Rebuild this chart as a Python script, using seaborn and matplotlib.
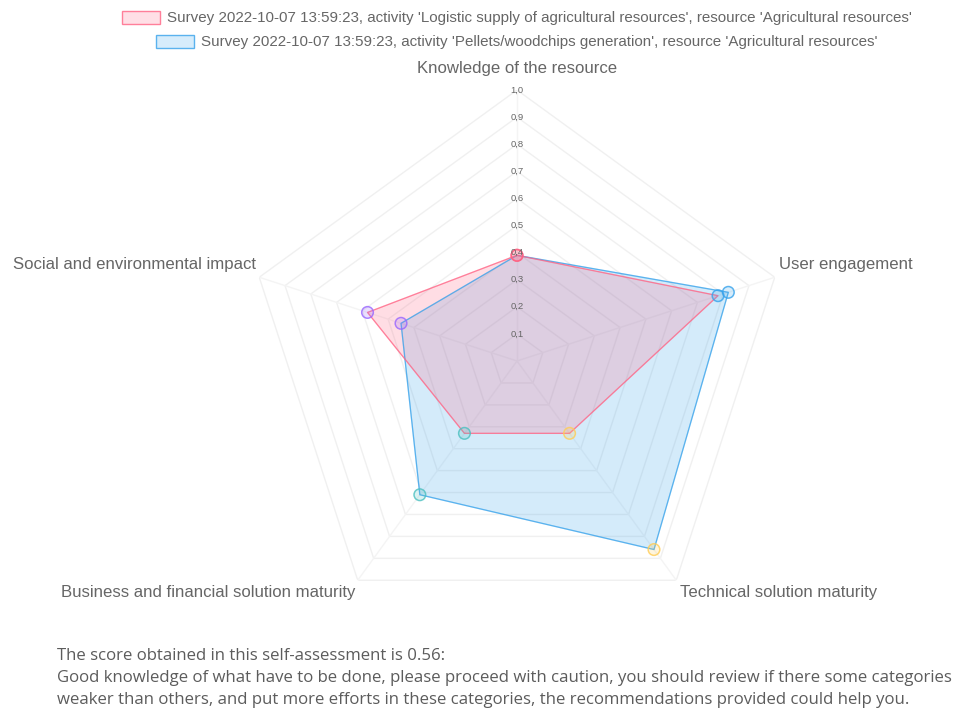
import numpy as np
import matplotlib
matplotlib.use("Agg")
import matplotlib.pyplot as plt
import seaborn as sns
import pandas as pd
from matplotlib.patches import Patch

# ---------------- data ----------------
categories = [
    "Knowledge of the resource",
    "User engagement",
    "Technical solution maturity",
    "Business and financial solution maturity",
    "Social and environmental impact",
]
logistic_values = [0.39, 0.78, 0.33, 0.33, 0.58]
pellets_values = [0.39, 0.82, 0.86, 0.61, 0.45]
series_labels = [
    "Survey 2022-10-07 13:59:23, activity 'Logistic supply of agricultural resources', resource 'Agricultural resources'",
    "Survey 2022-10-07 13:59:23, activity 'Pellets/woodchips generation', resource 'Agricultural resources'",
]
tick_values = [0.1, 0.2, 0.3, 0.4, 0.5, 0.6, 0.7, 0.8, 0.9, 1.0]
tick_labels = ["0,1", "0,2", "0,3", "0,4", "0,5", "0,6", "0,7", "0,8", "0,9", "1,0"]
score_lines = [
    "The score obtained in this self-assessment is 0.56:",
    "Good knowledge of what have to be done, please proceed with caution, you should review if there some categories",
    "weaker than others, and put more efforts in these categories, the recommendations provided could help you.",
]

# ---------------- style ----------------
sns.set_theme(style="white")
plt.rcParams["font.family"] = ["Liberation Sans", "DejaVu Sans"]

red = (255 / 255, 99 / 255, 132 / 255)
blue = (54 / 255, 162 / 255, 235 / 255)
point_colors = [
    (255 / 255, 99 / 255, 132 / 255),
    (54 / 255, 162 / 255, 235 / 255),
    (255 / 255, 205 / 255, 86 / 255),
    (75 / 255, 192 / 255, 192 / 255),
    (153 / 255, 102 / 255, 255 / 255),
]
text_color = "#666666"

W, H = 954, 711
fig = plt.figure(figsize=(W / 100, H / 100), dpi=100)
cx, cy, R = 517, 361, 271
ax = fig.add_axes([(cx - R) / W, (H - cy - R) / H, 2 * R / W, 2 * R / H], projection="polar")
ax.set_theta_offset(np.pi / 2)
ax.set_theta_direction(-1)
ax.set_ylim(0, 1)
ax.grid(False)
ax.spines["polar"].set_visible(False)
ax.set_xticks([])
ax.set_yticks([])
ax.patch.set_alpha(0)

n = len(categories)
theta = np.linspace(0, 2 * np.pi, n, endpoint=False)
theta_c = np.append(theta, theta[0])

# grid pentagons
for t in tick_values:
    ax.plot(theta_c, [t] * (n + 1), color="#f0f0f0", lw=1.0, zorder=1)
for th in theta:
    ax.plot([th, th], [0, 1], color="#f4f4f4", lw=1.0, zorder=1)

# datasets (second one below, first on top like Chart.js)
for vals, col in [(pellets_values, blue), (logistic_values, red)]:
    v = np.append(vals, vals[0])
    ax.fill(theta_c, v, color=(*col, 0.21), zorder=2)
    ax.plot(theta_c, v, color=col, lw=0.9, alpha=0.75, zorder=3)

# point markers
df = pd.DataFrame({
    "theta": np.concatenate([theta, theta]),
    "value": pellets_values + logistic_values,
    "axis": categories + categories,
})
sns.scatterplot(data=df, x="theta", y="value", hue="axis",
                palette=dict(zip(categories, point_colors)),
                s=70, linewidth=1.1, legend=False, ax=ax, zorder=4)
coll = ax.collections[-1]
fc = np.array(coll.get_facecolors())
ec = fc.copy()
ec[:, 3] = 0.8
fc[:, 3] = 0.2
coll.set_facecolor(fc)
coll.set_edgecolor(ec)
ax.set_xlabel("")
ax.set_ylabel("")
ax.set_ylim(0, 1)

# radial tick labels
for t, lab in zip(tick_values, tick_labels):
    ax.text(0, t, lab, ha="center", va="center", fontsize=6.8, color=text_color, zorder=5)


def fx(x):
    return x / W


def fy(y):
    return 1 - y / H


# axis labels
label_pos = [
    (517, 69, "center"),
    (779, 265, "left"),
    (680, 593, "left"),
    (355, 593, "right"),
    (256, 265, "right"),
]
for lab, (x, y, ha) in zip(categories, label_pos):
    fig.text(fx(x), fy(y), lab, ha=ha, va="center", fontsize=12.1, color=text_color)

# legend rows (centered individually)
for lab, col, y in [(series_labels[0], red, 18), (series_labels[1], blue, 42)]:
    h = Patch(facecolor=(*col, 0.2), edgecolor=(*col, 0.8), linewidth=1.0)
    fig.legend(handles=[h], labels=[lab], loc="center", bbox_to_anchor=(fx(517), fy(y)),
               frameon=False, fontsize=10.9, handlelength=2.5, handleheight=0.95,
               handletextpad=0.5, borderpad=0, borderaxespad=0, labelcolor=text_color)

# bottom text
for line, y in zip(score_lines, [656, 678, 700]):
    fig.text(fx(57), fy(y), line, ha="left", va="center", fontsize=12.05,
             color="#5c5c5c", family=["Open Sans", "DejaVu Sans"])

fig.savefig("out.png", dpi=100)
